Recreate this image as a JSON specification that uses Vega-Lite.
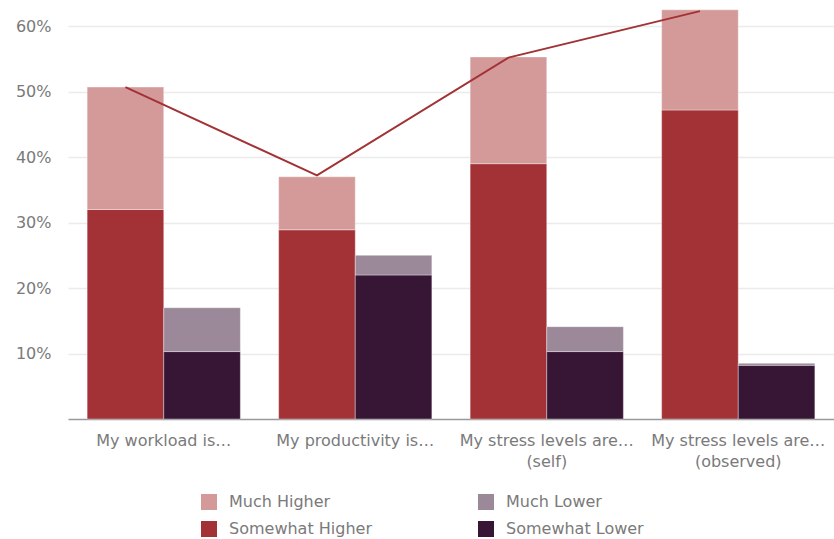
{
  "$schema": "https://vega.github.io/schema/vega-lite/v6.json",
  "autosize": "none",
  "width": 766,
  "height": 419,
  "padding": {"left": 68, "top": 0, "right": 0, "bottom": 120},
  "config": {
    "font": "DejaVu Sans",
    "view": {"stroke": null},
    "axis": {"labelFont": "DejaVu Sans", "labelColor": "#7a7a7a", "labelFontSize": 16}
  },
  "datasets": {
    "bars": [
      {"cat": "My workload is…", "side": "Higher", "type": "Somewhat Higher", "value": 0.32},
      {"cat": "My workload is…", "side": "Higher", "type": "Much Higher", "value": 0.187},
      {"cat": "My workload is…", "side": "Lower", "type": "Somewhat Lower", "value": 0.103},
      {"cat": "My workload is…", "side": "Lower", "type": "Much Lower", "value": 0.067},
      {"cat": "My productivity is…", "side": "Higher", "type": "Somewhat Higher", "value": 0.289},
      {"cat": "My productivity is…", "side": "Higher", "type": "Much Higher", "value": 0.081},
      {"cat": "My productivity is…", "side": "Lower", "type": "Somewhat Lower", "value": 0.22},
      {"cat": "My productivity is…", "side": "Lower", "type": "Much Lower", "value": 0.03},
      {"cat": "My stress levels are…|(self)", "side": "Higher", "type": "Somewhat Higher", "value": 0.39},
      {"cat": "My stress levels are…|(self)", "side": "Higher", "type": "Much Higher", "value": 0.163},
      {"cat": "My stress levels are…|(self)", "side": "Lower", "type": "Somewhat Lower", "value": 0.103},
      {"cat": "My stress levels are…|(self)", "side": "Lower", "type": "Much Lower", "value": 0.038},
      {"cat": "My stress levels are…|(observed)", "side": "Higher", "type": "Somewhat Higher", "value": 0.472},
      {"cat": "My stress levels are…|(observed)", "side": "Higher", "type": "Much Higher", "value": 0.153},
      {"cat": "My stress levels are…|(observed)", "side": "Lower", "type": "Somewhat Lower", "value": 0.082},
      {"cat": "My stress levels are…|(observed)", "side": "Lower", "type": "Much Lower", "value": 0.003}
    ],
    "line": [
      {"cat": "My workload is…", "side": "Higher", "total": 0.507},
      {"cat": "My productivity is…", "side": "Higher", "total": 0.372},
      {"cat": "My stress levels are…|(self)", "side": "Higher", "total": 0.552},
      {"cat": "My stress levels are…|(observed)", "side": "Higher", "total": 0.623}
    ]
  },
  "encoding": {
    "x": {
      "field": "cat", "type": "nominal", "sort": null,
      "scale": {"paddingInner": 0.2, "paddingOuter": 0.1},
      "axis": {
        "title": null, "labelAngle": 0, "ticks": false,
        "domainColor": "#999999", "domainWidth": 1.5,
        "labelPadding": 13, "labelOverlap": false,
        "labelExpr": "split(datum.label, '|')",
        "labelLineHeight": 21
      }
    },
    "xOffset": {"field": "side", "type": "nominal", "scale": {"domain": ["Higher", "Lower"], "paddingInner": 0, "paddingOuter": 0}}
  },
  "layer": [
    {
      "data": {"name": "bars"},
      "mark": {"type": "bar", "stroke": "#ffffff", "strokeWidth": 0.6, "strokeOpacity": 0.6},
      "encoding": {
        "y": {
          "field": "value", "type": "quantitative", "stack": "zero",
          "scale": {"domain": [0, 0.64], "nice": false},
          "axis": {
            "title": null, "format": ".0%", "values": [0.1, 0.2, 0.3, 0.4, 0.5, 0.6],
            "domain": false, "ticks": false, "labelPadding": 17,
            "gridColor": "#ebebeb", "gridWidth": 1.5
          }
        },
        "color": {
          "field": "type", "type": "nominal",
          "scale": {
            "domain": ["Much Higher", "Much Lower", "Somewhat Higher", "Somewhat Lower"],
            "range": ["#d49a9a", "#9b8898", "#a33236", "#361634"]
          },
          "legend": {
            "title": null, "orient": "none", "legendX": 133, "legendY": 494, "padding": 0,
            "direction": "horizontal", "columns": 2,
            "symbolType": "square", "symbolSize": 256, "symbolStrokeWidth": 0,
            "labelFontSize": 16, "labelColor": "#7a7a7a", "labelFont": "DejaVu Sans",
            "labelOffset": 12, "columnPadding": 106, "rowPadding": 11
          }
        },
        "order": {"field": "type", "sort": "descending"}
      }
    },
    {
      "data": {"name": "line"},
      "mark": {"type": "line", "color": "#a33236", "strokeWidth": 2},
      "encoding": {
        "y": {"field": "total", "type": "quantitative"}
      }
    }
  ]
}
